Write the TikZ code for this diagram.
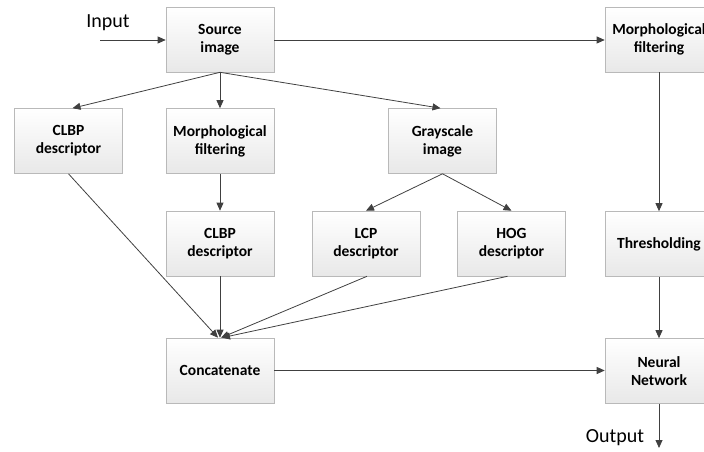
\documentclass[tikz,border=0pt]{standalone}
\usepackage{fontspec}
\setmainfont{Carlito}
\usetikzlibrary{arrows.meta}
\tikzset{
  box/.style={draw=gray!55, line width=0.6pt, top color=white, bottom color=gray!18,
    minimum width=108pt, minimum height=65pt, inner sep=2pt, align=center,
    font=\fontsize{15.5}{18}\selectfont\bfseries},
  conn/.style={draw=black!75, line width=0.8pt, -{Triangle[length=8pt,width=7pt]}},
  lbl/.style={font=\fontsize{20}{22}\selectfont, inner sep=0pt}
}
\begin{document}
\begin{tikzpicture}[x=1pt,y=-1pt]
\clip (0,0) rectangle (704,452);
\useasboundingbox (0,0) rectangle (704,452);
\node[box] (src) at (220,39.5) {Source\\image};
\node[box] (mf2) at (659,39.5) {Morphological\\filtering};
\node[box] (clbp1) at (68.5,141) {CLBP\\descriptor};
\node[box] (mf1) at (220,141) {Morphological\\filtering};
\node[box] (gray) at (442.5,141) {Grayscale\\image};
\node[box] (clbp2) at (220,243.5) {CLBP\\descriptor};
\node[box] (lcp) at (366,243.5) {LCP\\descriptor};
\node[box] (hog) at (511.5,243.5) {HOG\\descriptor};
\node[box] (thr) at (659,244) {Thresholding};
\node[box] (cat) at (220,370.5) {Concatenate};
\node[box] (nn) at (659,371) {Neural\\Network};
\node[lbl] (in) at (108,23) {Input};
\node[lbl] (out) at (615,438) {Output};
\coordinate (inS) at (100,40);
\coordinate (outE) at (659,448);
\draw[conn] (inS) -- (src.west |- inS);
\draw[conn] (src.east |- inS) -- (mf2.west |- inS);
\draw[conn] (src.south) -- ([xshift=4pt]clbp1.north);
\draw[conn] (src.south) -- (mf1.north);
\draw[conn] (src.south) -- ([xshift=-2pt]gray.north);
\draw[conn] (mf1.south) -- (clbp2.north);
\draw[conn] (gray.south) -- (lcp.north);
\draw[conn] (gray.south) -- (hog.north);
\draw[conn] (clbp1.south) -- ([xshift=-2pt]cat.north);
\draw[conn] (clbp2.south) -- (cat.north);
\draw[conn] ([xshift=1pt]lcp.south) -- ([xshift=1pt]cat.north);
\draw[conn] ([xshift=-4pt]hog.south) -- ([xshift=2pt]cat.north);
\draw[conn] (cat.east) -- (nn.west |- cat.east);
\draw[conn] (mf2.south) -- (thr.north);
\draw[conn] (thr.south) -- (nn.north);
\draw[conn] (nn.south) -- (outE);
\end{tikzpicture}
\end{document}
